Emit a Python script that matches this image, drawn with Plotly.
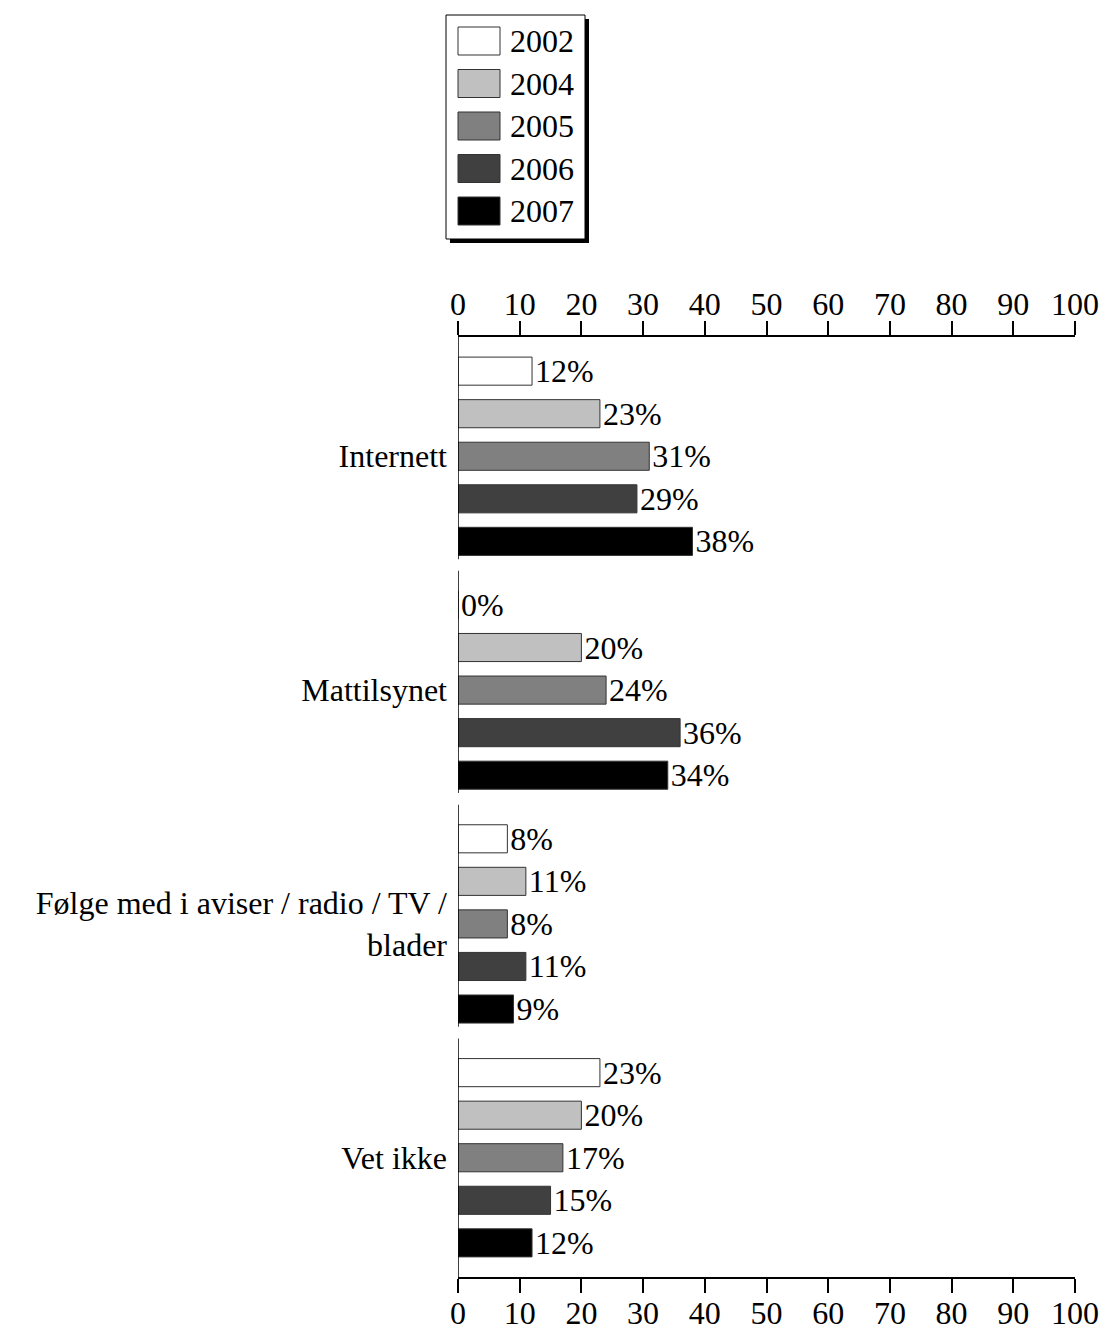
import plotly.graph_objects as go

categories = ["Internett", "Mattilsynet", "Følge med i aviser / radio / TV /<br>blader", "Vet ikke"]
years = ["2002", "2004", "2005", "2006", "2007"]
v2002 = [12, 0, 8, 23]
v2004 = [23, 20, 11, 20]
v2005 = [31, 24, 8, 17]
v2006 = [29, 36, 11, 15]
v2007 = [38, 34, 9, 12]
series = [v2002, v2004, v2005, v2006, v2007]
colors = ["#ffffff", "#c0c0c0", "#808080", "#404040", "#000000"]
x_ticks = list(range(0, 101, 10))

FONT = "Liberation Serif"
FS = 32
W, H = 1103, 1331
L, R, T, B = 458, 28, 337, 54
PW, PH = W - L - R, H - T - B

def px(xp):
    return (xp - L) / PW

def py(yp):
    return 1 - (yp - T) / PH

fig = go.Figure()
for name, vals, col in zip(years, series, colors):
    fig.add_trace(go.Bar(
        orientation="h", x=vals, y=categories, name=name,
        marker=dict(color=col, line=dict(color="#333333", width=1)),
        text=[f"{v}%" for v in vals], textposition="outside",
        textfont=dict(family=FONT, size=FS, color="black"),
        constraintext="none", cliponaxis=False, showlegend=False,
    ))
# invisible trace to activate top axis
fig.add_trace(go.Scatter(x=[0], y=[categories[0]], xaxis="x2", mode="markers",
                         marker=dict(opacity=0), showlegend=False, hoverinfo="skip"))

axis_common = dict(range=[0, 100], tickvals=x_ticks, showline=True, linecolor="black",
                   linewidth=1.5, ticks="outside", ticklen=14, tickwidth=1.5,
                   tickcolor="black", showgrid=False, zeroline=False, automargin=False,
                   ticklabelstandoff=-7,
                   tickfont=dict(family=FONT, size=FS, color="black"))

shapes = []
n = len(categories)
top_off, bot_off = 0.51, 0.44
for i in range(n):
    y0 = i - top_off
    y1 = i + bot_off if i < n - 1 else n - 1 + top_off
    shapes.append(dict(type="line", xref="x", yref="y", x0=0, x1=0, y0=y0, y1=y1,
                       line=dict(color="black", width=1.5)))

# custom legend
lx0, lx1, ly0, ly1 = 446, 585, 15, 239
sh = 4
shapes.append(dict(type="rect", xref="paper", yref="paper", x0=px(lx0 + sh), x1=px(lx1 + sh),
                   y0=py(ly1 + sh), y1=py(ly0 + sh), fillcolor="black", line=dict(width=0)))
shapes.append(dict(type="rect", xref="paper", yref="paper", x0=px(lx0), x1=px(lx1),
                   y0=py(ly1), y1=py(ly0), fillcolor="white", line=dict(color="black", width=1)))
annotations = []
for k, (name, col) in enumerate(zip(years, colors)):
    cy = 41 + k * 42.5
    shapes.append(dict(type="rect", xref="paper", yref="paper", x0=px(458), x1=px(500),
                       y0=py(cy + 14), y1=py(cy - 14), fillcolor=col,
                       line=dict(color="#333333", width=1)))
    annotations.append(dict(text=name, xref="paper", yref="paper", x=px(508), y=py(cy),
                            xanchor="left", yanchor="middle", showarrow=False,
                            font=dict(family=FONT, size=FS, color="black")))

fig.update_layout(
    width=W, height=H, margin=dict(l=L, r=R, t=T, b=B, autoexpand=False),
    paper_bgcolor="white", plot_bgcolor="white",
    barmode="group", bargap=0.09, bargroupgap=0.34,
    xaxis=dict(**axis_common, side="bottom"),
    xaxis2=dict(**axis_common, side="top", overlaying="x", matches="x"),
    yaxis=dict(type="category", categoryarray=categories, range=[n - 1 + top_off, -top_off],
               showline=False, ticks="", showgrid=False, zeroline=False, automargin=False,
               ticklabelstandoff=10,
               tickfont=dict(family=FONT, size=FS, color="black")),
    shapes=shapes, annotations=annotations,
)
fig.write_html("out.html", config={"displayModeBar": False},
               post_script="document.body.style.margin='0px';document.body.style.overflow='hidden';")
